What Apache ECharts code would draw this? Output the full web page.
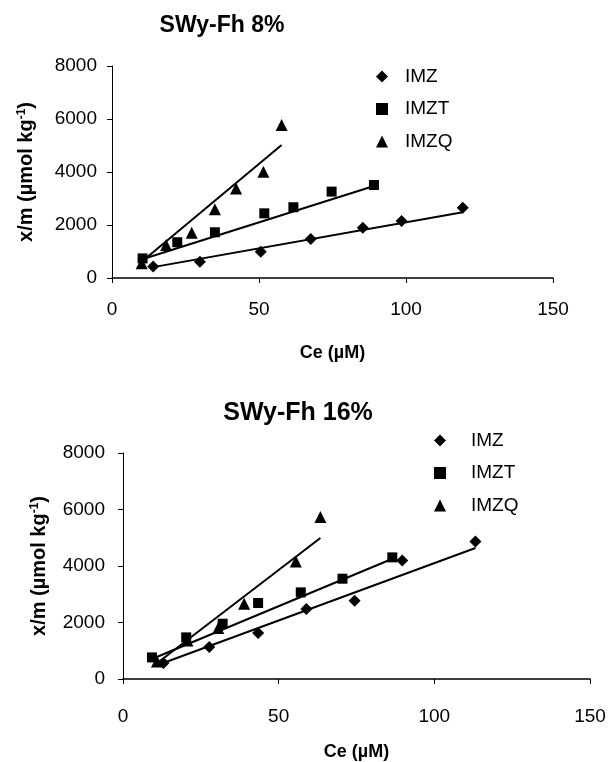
<!DOCTYPE html>
<html>
<head>
<meta charset="utf-8">
<script src="https://cdn.jsdelivr.net/npm/echarts@6/dist/echarts.min.js"></script>
<style>
html,body{margin:0;padding:0;background:#fff;}
#chart{width:611px;height:762px;}
</style>
</head>
<body>
<div id="chart"></div>
<script>
// ---- Data: SWy-Fh 8% ----
const seriesNames = ['IMZ', 'IMZT', 'IMZQ'];
const xTicks = [0, 50, 100, 150];
const yTicks = [0, 2000, 4000, 6000, 8000];

const imz8X  = [14.0, 29.9, 50.6, 67.6, 85.3, 98.5, 119.3];
const imz8Y  = [430, 615, 990, 1470, 1900, 2150, 2650];
const imzt8X = [10.4, 22.2, 35.0, 51.8, 61.7, 74.7, 89.1];
const imzt8Y = [740, 1350, 1725, 2440, 2670, 3260, 3510];
const imzq8X = [10.1, 18.4, 27.1, 35.0, 42.2, 51.5, 57.7];
const imzq8Y = [555, 1245, 1710, 2590, 3380, 4010, 5770];
// trend line endpoints
const imz8TrendX  = [14.0, 119.3];
const imz8TrendY  = [410, 2480];
const imzt8TrendX = [9.5, 89.1];
const imzt8TrendY = [680, 3470];
const imzq8TrendX = [10.0, 57.7];
const imzq8TrendY = [600, 5020];

// ---- Data: SWy-Fh 16% ----
const imz16X  = [13.0, 27.7, 43.4, 58.9, 74.4, 89.7, 113.2];
const imz16Y  = [566, 1133, 1628, 2478, 2771, 4198, 4871];
const imzt16X = [9.3, 20.3, 32.0, 43.4, 57.1, 70.5, 86.5];
const imzt16Y = [765, 1473, 1957, 2690, 3066, 3550, 4305];
const imzq16X = [10.9, 20.7, 30.6, 38.9, 55.5, 63.4];
const imzq16Y = [623, 1367, 1805, 2665, 4163, 5735];
const imz16TrendX  = [11.4, 113.2];
const imz16TrendY  = [506, 4637];
const imzt16TrendX = [9.3, 87.5];
const imzt16TrendY = [708, 4300];
const imzq16TrendX = [10.9, 63.4];
const imzq16TrendY = [560, 4990];

const zip = (xs, ys) => xs.map((x, i) => [x, ys[i]]);
const FONT = 'Liberation Sans, Arial, sans-serif';
const symbols = {IMZ: 'diamond', IMZT: 'rect', IMZQ: 'triangle'};
const symSizes = {IMZ: 12, IMZT: 10, IMZQ: 12};

function scatter(name, idx, xs, ys) {
  return {
    type: 'scatter', name: name, xAxisIndex: idx, yAxisIndex: idx,
    data: zip(xs, ys), symbol: symbols[name], symbolSize: symSizes[name],
    itemStyle: {color: '#000', opacity: 1}, z: 3
  };
}
function trend(idx, xs, ys) {
  return {
    type: 'line', xAxisIndex: idx, yAxisIndex: idx, data: zip(xs, ys),
    symbol: 'none', lineStyle: {color: '#000', width: 2}, silent: true, z: 2
  };
}
function xAxis(gridIndex, nameGap, margin) {
  return {
    type: 'value', gridIndex: gridIndex, min: xTicks[0], max: xTicks[xTicks.length - 1], interval: 50,
    name: 'Ce (µM)', nameLocation: 'middle', nameGap: nameGap,
    nameTextStyle: {fontFamily: FONT, fontSize: 18, fontWeight: 'bold', color: '#000'},
    axisLine: {show: true, lineStyle: {color: '#000', width: 1.5}},
    axisTick: {show: true, length: 5, lineStyle: {color: '#000'}},
    axisLabel: {fontFamily: FONT, fontSize: 19, color: '#000', margin: margin, formatter: v => String(v)},
    splitLine: {show: false}
  };
}
function yAxis(gridIndex, nameGap, margin) {
  return {
    type: 'value', gridIndex: gridIndex, min: yTicks[0], max: yTicks[yTicks.length - 1], interval: 2000,
    name: '{a|x/m (µmol kg}{s|-1}{a|)}', nameLocation: 'middle', nameGap: nameGap, nameRotate: 90,
    nameTextStyle: {
      rich: {
        a: {fontFamily: FONT, fontSize: 20, fontWeight: 'bold', color: '#000'},
        s: {fontFamily: FONT, fontSize: 12, fontWeight: 'bold', color: '#000', verticalAlign: 'top', padding: [0, 0, 9, 0]}
      }
    },
    axisLine: {show: true, lineStyle: {color: '#000', width: 1}},
    axisTick: {show: true, length: 5, lineStyle: {color: '#000'}},
    axisLabel: {fontFamily: FONT, fontSize: 19, color: '#000', margin: margin, formatter: v => String(v)},
    splitLine: {show: false}
  };
}
function legend(left, top, pad) {
  return {
    orient: 'vertical', left: left, top: top, itemWidth: 12, itemHeight: 12, itemGap: 13.5,
    data: seriesNames.map(n => ({name: n, icon: symbols[n]})),
    itemStyle: {color: '#000', opacity: 1},
    textStyle: {fontFamily: FONT, fontSize: 19, color: '#000', padding: [0, 0, 0, pad]},
    selectedMode: false
  };
}

const chart = echarts.init(document.getElementById('chart'), null, {renderer: 'canvas'});
chart.setOption({
  backgroundColor: '#fff',
  animation: false,
  title: [
    {text: 'SWy-Fh 8%', left: 217, top: 9, textAlign: 'center',
     textStyle: {fontFamily: FONT, fontSize: 23, fontWeight: 'bold', color: '#000'}},
    {text: 'SWy-Fh 16%', left: 293, top: 396, textAlign: 'center',
     textStyle: {fontFamily: FONT, fontSize: 25, fontWeight: 'bold', color: '#000'}}
  ],
  legend: [legend(371, 62, 12), legend(429, 426, 20)],
  grid: [
    {left: 112, top: 66, width: 441, height: 212},
    {left: 123, top: 453, width: 467, height: 226}
  ],
  xAxis: [xAxis(0, 66, 22), xAxis(1, 64, 28)],
  yAxis: [yAxis(0, 75, 15), yAxis(1, 73, 18)],
  series: [
    scatter('IMZ', 0, imz8X, imz8Y),
    scatter('IMZT', 0, imzt8X, imzt8Y),
    scatter('IMZQ', 0, imzq8X, imzq8Y),
    trend(0, imz8TrendX, imz8TrendY),
    trend(0, imzt8TrendX, imzt8TrendY),
    trend(0, imzq8TrendX, imzq8TrendY),
    scatter('IMZ', 1, imz16X, imz16Y),
    scatter('IMZT', 1, imzt16X, imzt16Y),
    scatter('IMZQ', 1, imzq16X, imzq16Y),
    trend(1, imz16TrendX, imz16TrendY),
    trend(1, imzt16TrendX, imzt16TrendY),
    trend(1, imzq16TrendX, imzq16TrendY)
  ]
});
</script>
</body>
</html>
